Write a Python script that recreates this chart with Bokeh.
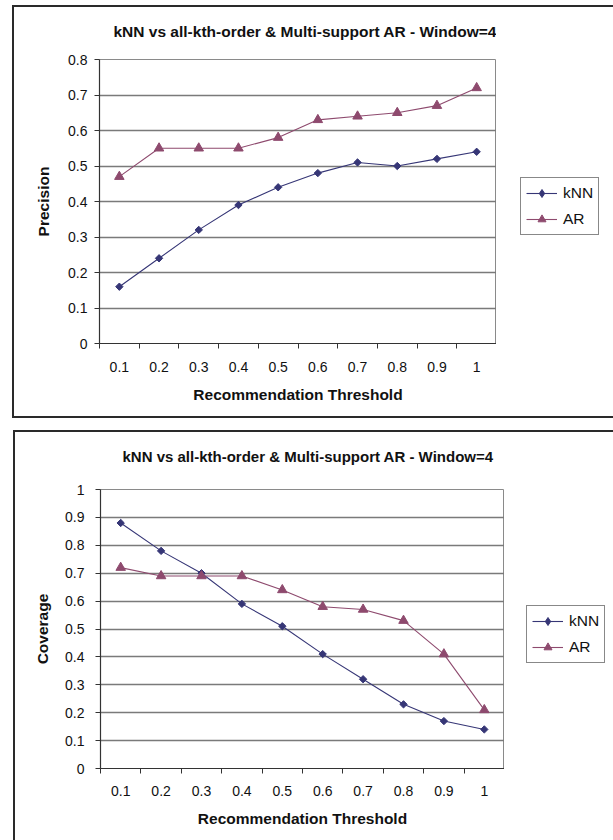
import numpy as np
from bokeh.plotting import figure
from bokeh.layouts import column, row
from bokeh.models import (FixedTicker, NumeralTickFormatter, Legend, LegendItem,
                          Range1d, ColumnDataSource, InlineStyleSheet)
from bokeh.embed import file_html
from bokeh.resources import INLINE

# ---------------- data ----------------
thresholds = ["0.1", "0.2", "0.3", "0.4", "0.5", "0.6", "0.7", "0.8", "0.9", "1"]
precision_knn = [0.16, 0.24, 0.32, 0.39, 0.44, 0.48, 0.51, 0.50, 0.52, 0.54]
precision_ar = [0.47, 0.55, 0.55, 0.55, 0.58, 0.63, 0.64, 0.65, 0.67, 0.72]
coverage_knn = [0.88, 0.78, 0.70, 0.59, 0.51, 0.41, 0.32, 0.23, 0.17, 0.14]
coverage_ar = [0.72, 0.69, 0.69, 0.69, 0.64, 0.58, 0.57, 0.53, 0.41, 0.21]
series_names = ["kNN", "AR"]
chart_title = "kNN vs all-kth-order & Multi-support AR - Window=4"
x_title = "Recommendation Threshold"

FONT = "Liberation Sans"
KNN_COLOR = "#363676"
AR_COLOR = "#8e4a6e"
W, H = 613, 420


def make_chart(knn, ar, ylabel, ymax, geom):
    n = len(thresholds)
    xc = [i + 0.5 for i in range(n)]
    src = ColumnDataSource(dict(x=xc, knn=knn, ar=ar))
    fh = geom["bottom"] - geom["top"]

    p = figure(frame_width=geom["right"] - geom["left"], frame_height=fh,
               output_backend="svg", toolbar_location=None,
               x_range=Range1d(0, n), y_range=Range1d(0, ymax),
               min_border_left=geom["left"], min_border_right=0,
               min_border_top=geom["top"], min_border_bottom=H - geom["bottom"],
               background_fill_color="white", border_fill_color="white")
    p.outline_line_color = "#8a8a8a"
    p.outline_line_width = 1

    # title
    p.title.text = chart_title
    p.title.text_font = FONT
    p.title.text_font_size = geom["title_size"]
    p.title.text_font_style = "bold"
    p.title.text_color = "#111111"
    p.title.align = "left"
    p.title.offset = geom["title_offset"]
    p.title.standoff = geom["title_standoff"]

    # x axis: labels centred on categories, ticks between them
    xa = p.xaxis[0]
    xa.ticker = FixedTicker(ticks=xc, minor_ticks=list(range(n + 1)))
    xa.major_label_overrides = {xc[i]: thresholds[i] for i in range(n)}
    xa.major_tick_out = 0
    xa.major_tick_in = 0
    xa.minor_tick_out = 5
    xa.minor_tick_in = 0
    xa.minor_tick_line_color = "#333333"
    xa.axis_line_color = "#333333"
    xa.axis_line_width = 1.2
    xa.major_label_text_font = FONT
    xa.major_label_text_font_size = "14px"
    xa.major_label_text_color = "#111111"
    xa.major_label_standoff = geom["xl_standoff"]
    xa.axis_label = x_title
    xa.axis_label_text_font = FONT
    xa.axis_label_text_font_size = "15.5px"
    xa.axis_label_text_font_style = "bold"
    xa.axis_label_text_color = "#111111"
    xa.axis_label_standoff = geom["xt_standoff"]

    # y axis
    nt = int(round(ymax * 10)) + 1
    yt = [round(i * 0.1, 1) for i in range(nt)]
    ya = p.yaxis[0]
    ya.ticker = FixedTicker(ticks=yt, minor_ticks=[])
    ya.formatter = NumeralTickFormatter(format="0.[0]")
    ya.major_tick_out = 5
    ya.major_tick_in = 0
    ya.major_tick_line_color = "#333333"
    ya.axis_line_color = "#333333"
    ya.axis_line_width = 1.2
    ya.major_label_text_font = FONT
    ya.major_label_text_font_size = "14px"
    ya.major_label_text_color = "#111111"
    ya.major_label_standoff = geom["yl_standoff"]
    ya.axis_label = ylabel
    ya.axis_label_text_font = FONT
    ya.axis_label_text_font_size = "15.5px"
    ya.axis_label_text_font_style = "bold"
    ya.axis_label_text_color = "#111111"
    ya.axis_label_standoff = geom["yt_standoff"]

    p.xgrid.visible = False
    p.ygrid.ticker = FixedTicker(ticks=yt, minor_ticks=[])
    p.ygrid.grid_line_color = "#7a7a7a"
    p.ygrid.grid_line_width = 1.3

    p.line("x", "knn", source=src, line_color=KNN_COLOR, line_width=1.1)
    p.scatter("x", "knn", source=src, marker="square", angle=np.pi / 4, size=5.2,
              fill_color=KNN_COLOR, line_color=KNN_COLOR)
    p.line("x", "ar", source=src, line_color=AR_COLOR, line_width=1.1)
    p.scatter("x", "ar", source=src, marker="triangle", size=9.5,
              fill_color=AR_COLOR, line_color=AR_COLOR)

    # ---- legend panel: companion figure with the same vertical frame as the chart ----
    lw = W - geom["right"]
    fw = lw - geom["gap"] - 2
    q = figure(frame_width=fw, frame_height=fh, output_backend="svg", toolbar_location=None,
               x_axis_type=None, y_axis_type=None,
               x_range=Range1d(-2, -1), y_range=Range1d(0, ymax),
               min_border_left=geom["gap"], min_border_right=2,
               min_border_top=geom["top"], min_border_bottom=H - geom["bottom"],
               background_fill_color="white", border_fill_color="white")
    q.outline_line_color = None
    q.xgrid.visible = False
    q.ygrid.visible = False
    # same series, outside this panel's view: only their legend keys show
    ql1 = q.line("x", "knn", source=src, line_color=KNN_COLOR, line_width=1.1)
    qm1 = q.scatter("x", "knn", source=src, marker="diamond", size=9,
                    fill_color=KNN_COLOR, line_color=KNN_COLOR)
    ql2 = q.line("x", "ar", source=src, line_color=AR_COLOR, line_width=1.1)
    qm2 = q.scatter("x", "ar", source=src, marker="triangle", size=9,
                    fill_color=AR_COLOR, line_color=AR_COLOR)
    legend = Legend(items=[LegendItem(label=series_names[0], renderers=[ql1, qm1]),
                           LegendItem(label=series_names[1], renderers=[ql2, qm2])],
                    location=(0, geom["leg_y"]))
    legend.border_line_color = "#111111"
    legend.border_line_width = 1
    legend.background_fill_color = "white"
    legend.background_fill_alpha = 1
    legend.label_text_font = FONT
    legend.label_text_font_size = "15.5px"
    legend.label_text_color = "#111111"
    legend.glyph_width = 31
    legend.glyph_height = 20
    legend.label_height = 20
    legend.label_standoff = 6
    legend.spacing = 6
    legend.padding = 5
    legend.margin = 0
    q.add_layout(legend, "center")

    r = row(p, q, spacing=0)
    # outer chart border (drawn by CSS, partly cut off at the page edge like the reference)
    bx = geom["box"]
    css = (":host { overflow: hidden; }"
           ":host::after { content: ''; position: absolute; box-sizing: border-box;"
           f" left: {bx[0]}px; top: {bx[1]}px; width: {bx[2]}px; height: {bx[3]}px;"
           " border: 2px solid #2a2a2a; pointer-events: none; z-index: 10; }")
    r.stylesheets = [InlineStyleSheet(css=css)]
    return r


g1 = dict(left=99, right=496, top=59, bottom=343, title_offset=14, title_standoff=40,
          title_size="15.5px",
          xl_standoff=13, xt_standoff=11, yl_standoff=7, yt_standoff=13,
          gap=24, leg_y=108, box=(12, 5, 800, 413))
g2 = dict(left=100, right=504, top=68, bottom=347, title_offset=22, title_standoff=50,
          title_size="15px",
          xl_standoff=12, xt_standoff=11, yl_standoff=11, yt_standoff=11,
          gap=22, leg_y=105, box=(13, 10, 800, 600))

r1 = make_chart(precision_knn, precision_ar, "Precision", 0.8, g1)
r2 = make_chart(coverage_knn, coverage_ar, "Coverage", 1.0, g2)

layout = column(r1, r2, spacing=0)
open("out.html", "w").write(file_html(layout, INLINE))
